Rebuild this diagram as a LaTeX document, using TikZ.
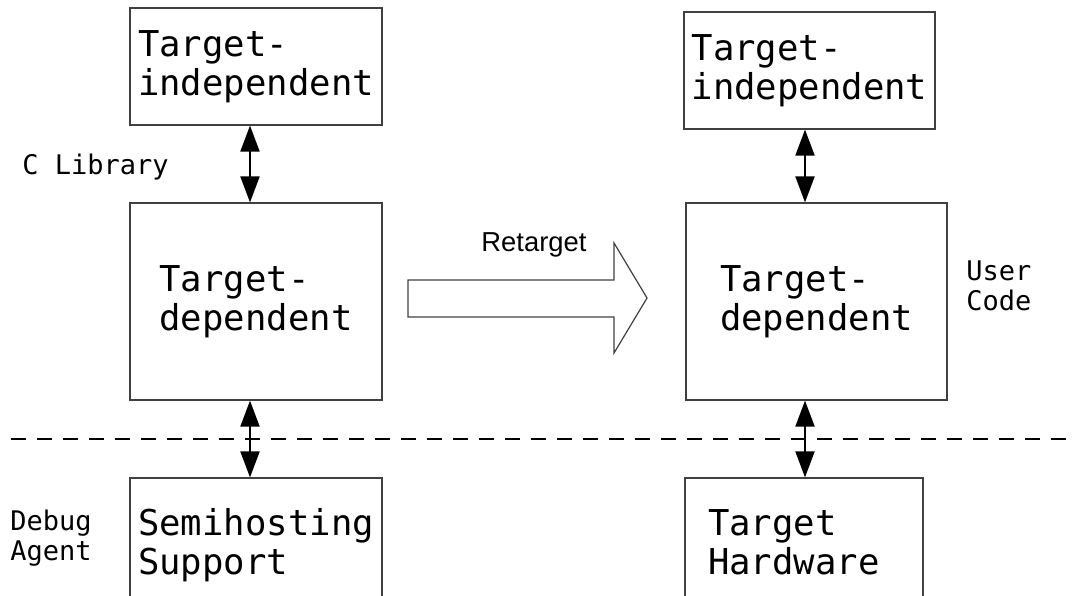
\documentclass[tikz,border=0pt]{standalone}
\usepackage{fontspec}
\setmainfont{Liberation Sans}
\setmonofont{DejaVu Sans Mono}
\usetikzlibrary{arrows.meta}
\begin{document}
\begin{tikzpicture}[x=0.5pt,y=-0.5pt,
  box/.style={draw=black!75, line width=0.6pt, font=\ttfamily\fontsize{17.8}{19.5}\selectfont, align=left, inner sep=0pt},
  side/.style={font=\ttfamily\fontsize{13.5}{15}\selectfont, align=left, inner sep=0pt, anchor=west},
  link/.style={{Triangle[length=13pt,width=9.5pt]}-{Triangle[length=13pt,width=9.5pt]}, line width=1pt}]
\clip (0,0) rectangle (1075,595);
% C library side
\node[box, minimum width=126pt, minimum height=58.5pt] (lind) at (256,66.5) {Target-\\independent};
\node[box, minimum width=126pt, minimum height=98.5pt] (ldep) at (256,301.5) {Target-\\dependent};
\node[box, minimum width=126pt, minimum height=67pt] (semi) at (256,545) {Semihosting\\Support};
% user code side
\node[box, minimum width=125.5pt, minimum height=58.5pt] (rind) at (809.5,70.5) {Target-\\independent};
\node[box, minimum width=130.5pt, minimum height=98.5pt] (rdep) at (816.5,301.5) {Target-\\dependent};
\node[box, text width=96pt, inner xsep=11.5pt, minimum height=64pt] (hw) at (804,542) {Target\\Hardware};
% side labels
\node[side] (clib) at (22,167) {C Library};
\node[side] (user) at (966,286) {User\\Code};
\node[side] (debug) at (10,538) {Debug\\Agent};
% boundary
\draw[line width=1pt, dash pattern=on 7.5pt off 5.5pt] (11,439)--(1075,439);
\draw[link] ([xshift=-3pt]lind.south)--([xshift=-3pt]lind.south |- ldep.north);
\draw[link] ([xshift=-3pt]ldep.south)--([xshift=-3pt]ldep.south |- semi.north);
\draw[link] ([xshift=-2.25pt]rind.south)--([xshift=-2.25pt]rind.south |- rdep.north);
\draw[link] ([xshift=0.5pt]hw.north |- rdep.south)--([xshift=0.5pt]hw.north);
% retarget arrow
\draw[draw=black!75, line width=0.6pt] (408,280)--(614,280)--(614,243)--(647,298)--(614,353)--(614,317)--(408,317)--cycle;
\node[font=\fontsize{13.7}{15}\selectfont] (ret) at (534,245) {Retarget};
\end{tikzpicture}
\end{document}
